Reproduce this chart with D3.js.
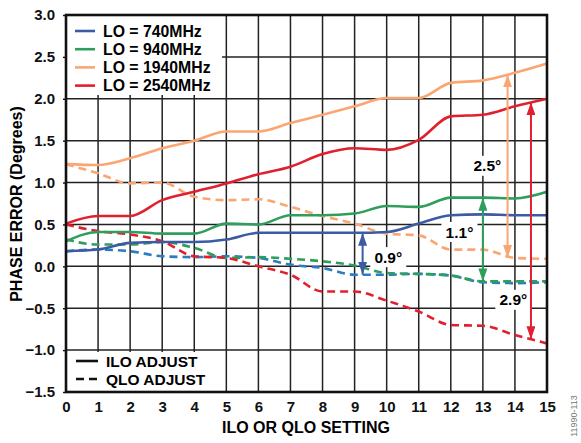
<!DOCTYPE html>
<html>
<head>
<meta charset="utf-8">
<script src="https://cdn.jsdelivr.net/npm/d3@7"></script>
<style>
  body { margin: 0; background: #fff; }
  text { font-family: "Liberation Sans", Arial, sans-serif; font-weight: bold; }
</style>
</head>
<body>
<div id="display"></div>
<script>
const W = 581, H = 443
const plot = {left: 66, right: 547, top: 15, bottom: 392}

// settings 0..15
const settings = d3.range(0, 16)
const xTicks = d3.range(0, 16)
const yTicks = [-1.5, -1.0, -0.5, 0, 0.5, 1.0, 1.5, 2.0, 2.5, 3.0]

// ILO adjust (solid)
const ilo740  = [0.18, 0.20, 0.28, 0.29, 0.29, 0.32, 0.40, 0.40, 0.40, 0.40, 0.41, 0.51, 0.61, 0.62, 0.61, 0.61]
const ilo940  = [0.30, 0.41, 0.41, 0.39, 0.39, 0.51, 0.50, 0.61, 0.61, 0.63, 0.72, 0.71, 0.82, 0.82, 0.81, 0.89]
const ilo1940 = [1.22, 1.21, 1.29, 1.41, 1.50, 1.61, 1.61, 1.71, 1.81, 1.91, 2.01, 2.01, 2.19, 2.22, 2.31, 2.42]
const ilo2540 = [0.51, 0.60, 0.60, 0.79, 0.89, 0.99, 1.10, 1.19, 1.34, 1.41, 1.39, 1.51, 1.79, 1.81, 1.91, 2.00]

// QLO adjust (dashed)
const qlo740  = [0.18, 0.20, 0.18, 0.12, 0.11, 0.12, 0.10, 0.02, -0.02, -0.10, -0.10, -0.09, -0.11, -0.19, -0.20, -0.19]
const qlo940  = [0.32, 0.26, 0.26, 0.29, 0.22, 0.10, 0.11, 0.09, 0.06, 0.01, -0.08, -0.09, -0.11, -0.18, -0.18, -0.18]
const qlo1940 = [1.22, 1.11, 0.99, 1.00, 0.83, 0.79, 0.80, 0.71, 0.60, 0.51, 0.39, 0.37, 0.20, 0.20, 0.10, 0.09]
const qlo2540 = [0.50, 0.42, 0.38, 0.30, 0.12, 0.10, 0.00, -0.10, -0.30, -0.30, -0.41, -0.54, -0.70, -0.71, -0.82, -0.92]

const loNames = ["LO = 740MHz", "LO = 940MHz", "LO = 1940MHz", "LO = 2540MHz"]
const loColors = ["#3b5ca3", "#2e9e5c", "#fba672", "#e1202e"]
const qloColors = ["#2b7cc4", "#2e9e5c", "#fba672", "#e1202e"]

// spread annotations: setting, from, to, label, label position
const spreadX = [9.25, 13.0, 13.77, 14.5]
const spreadFrom = [0.40, 0.82, 2.29, 1.96]
const spreadTo = [-0.10, -0.18, 0.10, -0.87]
const spreadLabels = ["0.9°", "1.1°", "2.5°", "2.9°"]
const spreadLabelX = [10.05, 12.27, 13.14, 13.95]
const spreadLabelY = [0.11, 0.41, 1.20, -0.40]

const svg = d3.select('#display').append('svg')
    .attr('width', W)
    .attr('height', H)

const xScale = d3.scaleLinear().domain([0, 15]).range([plot.left, plot.right])
const yScale = d3.scaleLinear().domain([-1.5, 3]).range([plot.bottom, plot.top])

// grid
svg.append('g').selectAll('line').data(xTicks.slice(1, -1))
    .enter().append('line')
        .attr('x1', d => xScale(d)).attr('x2', d => xScale(d))
        .attr('y1', plot.top).attr('y2', plot.bottom)
        .attr('stroke', '#222').attr('stroke-width', 1.5)
svg.append('g').selectAll('line').data(yTicks.slice(1, -1))
    .enter().append('line')
        .attr('x1', plot.left).attr('x2', plot.right)
        .attr('y1', d => yScale(d)).attr('y2', d => yScale(d))
        .attr('stroke', '#222').attr('stroke-width', 1.5)

// legend backgrounds hide the grid
svg.append('rect').attr('x', plot.left).attr('y', plot.top)
    .attr('width', 156).attr('height', 80).attr('fill', '#fff')
svg.append('rect').attr('x', plot.left).attr('y', 352)
    .attr('width', 157).attr('height', plot.bottom - 352).attr('fill', '#fff')

// white boxes behind annotation labels
spreadLabels.forEach((t, i) => {
    svg.append('rect')
        .attr('x', xScale(spreadLabelX[i]) - 18)
        .attr('y', yScale(spreadLabelY[i]) - 10)
        .attr('width', 36).attr('height', 20)
        .attr('fill', '#fff')
})

const line = d3.line()
    .x((d, i) => xScale(settings[i]))
    .y(d => yScale(d))
    .curve(d3.curveMonotoneX)

const solids = [ilo740, ilo940, ilo1940, ilo2540]
const dashes = [qlo740, qlo940, qlo1940, qlo2540]

dashes.forEach((s, i) => {
    svg.append('path')
        .datum(s)
        .attr('d', line)
        .attr('fill', 'none')
        .attr('stroke', qloColors[i])
        .attr('stroke-width', 2.6)
        .attr('stroke-dasharray', '8,5')
})
solids.forEach((s, i) => {
    svg.append('path')
        .datum(s)
        .attr('d', line)
        .attr('fill', 'none')
        .attr('stroke', loColors[i])
        .attr('stroke-width', 2.6)
})

// arrow markers
const defs = svg.append('defs')
loColors.forEach((c, i) => {
    defs.append('marker')
        .attr('id', 'arrow' + i)
        .attr('viewBox', '0 0 13 9')
        .attr('refX', 13).attr('refY', 4.5)
        .attr('markerWidth', 13).attr('markerHeight', 9)
        .attr('markerUnits', 'userSpaceOnUse')
        .attr('orient', 'auto-start-reverse')
        .append('path')
            .attr('d', 'M0,0 L13,4.5 L0,9 Z')
            .attr('fill', c)
})

spreadX.forEach((sx, i) => {
    svg.append('line')
        .attr('x1', xScale(sx)).attr('x2', xScale(sx))
        .attr('y1', yScale(spreadFrom[i])).attr('y2', yScale(spreadTo[i]))
        .attr('stroke', loColors[i])
        .attr('stroke-width', 2)
        .attr('marker-start', 'url(#arrow' + i + ')')
        .attr('marker-end', 'url(#arrow' + i + ')')
    svg.append('text')
        .attr('x', xScale(spreadLabelX[i]))
        .attr('y', yScale(spreadLabelY[i]))
        .attr('dy', '0.36em')
        .attr('text-anchor', 'middle')
        .style('font-size', '15.5px')
        .text(spreadLabels[i])
})

// frame
svg.append('rect')
    .attr('x', plot.left).attr('y', plot.top)
    .attr('width', plot.right - plot.left).attr('height', plot.bottom - plot.top)
    .attr('fill', 'none').attr('stroke', '#111').attr('stroke-width', 2.6)

// axes
const yAxis = svg.append('g')
    .attr('transform', 'translate(' + plot.left + ',0)')
    .call(d3.axisLeft(yScale).tickValues(yTicks).tickFormat(d3.format('.1f')).tickSize(3).tickPadding(8))
const xAxis = svg.append('g')
    .attr('transform', 'translate(0,' + plot.bottom + ')')
    .call(d3.axisBottom(xScale).tickValues(xTicks).tickFormat(d3.format('d')).tickSize(0).tickPadding(9))
;[xAxis, yAxis].forEach(a => {
    a.select('.domain').remove()
    a.selectAll('text').style('font-size', '15px').attr('fill', '#111')
        .style('font-family', '"Liberation Sans", Arial, sans-serif').style('font-weight', 'bold')
    a.selectAll('line').attr('stroke', '#111').attr('stroke-width', 1.4)
})

// legend: frequencies
loNames.forEach((n, i) => {
    const ly = 31 + i * 18.2
    svg.append('line')
        .attr('x1', 75).attr('x2', 95).attr('y1', ly).attr('y2', ly)
        .attr('stroke', loColors[i]).attr('stroke-width', 2.6)
    svg.append('text')
        .attr('x', 103).attr('y', ly).attr('dy', '0.36em')
        .style('font-size', '15.8px')
        .text(n)
})

// legend: line styles
const styleNames = ["ILO ADJUST", "QLO ADJUST"]
styleNames.forEach((n, i) => {
    const ly = 361 + i * 18
    svg.append('line')
        .attr('x1', 76).attr('x2', 98).attr('y1', ly).attr('y2', ly)
        .attr('stroke', '#111').attr('stroke-width', 2.6)
        .attr('stroke-dasharray', i == 1 ? '8,5' : null)
    svg.append('text')
        .attr('x', 106).attr('y', ly).attr('dy', '0.36em')
        .style('font-size', '15.5px')
        .text(n)
})

// axis titles
svg.append('text')
    .attr('transform', 'translate(306,433)')
    .attr('text-anchor', 'middle')
    .style('font-size', '16px')
    .text('ILO OR QLO SETTING')
svg.append('text')
    .attr('transform', 'translate(16,204) rotate(-90)')
    .attr('text-anchor', 'middle')
    .attr('dy', '0.36em')
    .style('font-size', '16px')
    .text('PHASE ERROR (Degrees)')

svg.append('text')
    .attr('transform', 'translate(574,416) rotate(-90)')
    .attr('text-anchor', 'middle')
    .attr('dy', '0.36em')
    .style('font-size', '9px')
    .style('font-weight', 'normal')
    .attr('fill', '#777')
    .text('11990-113')
</script>
</body>
</html>
